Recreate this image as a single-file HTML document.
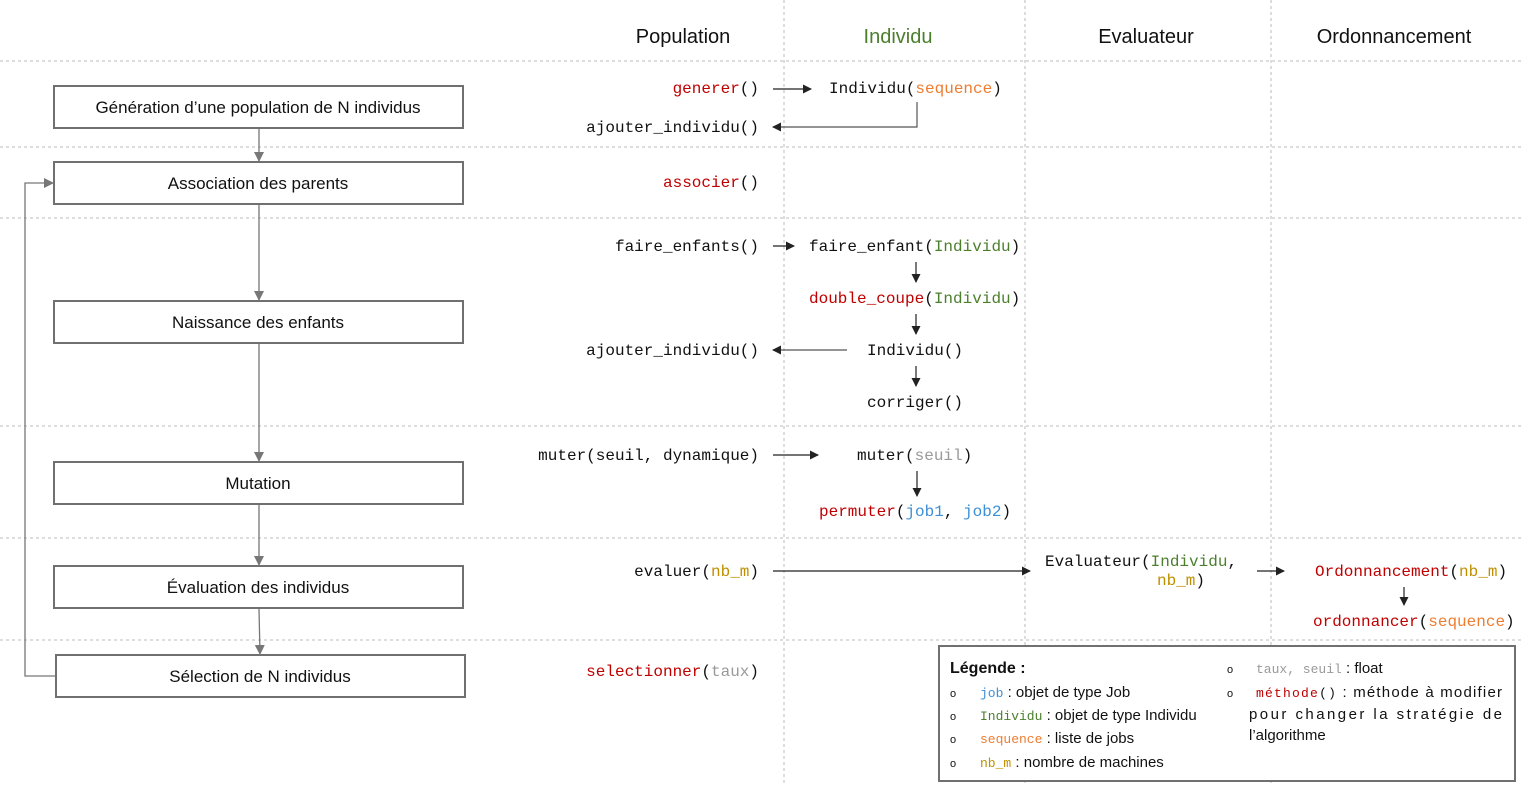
<!DOCTYPE html>
<html><head><meta charset="utf-8"><style>
html,body{margin:0;padding:0;background:#fff;}
svg{display:block;}
.m{font-family:"Liberation Mono",monospace;font-size:16px;fill:#111;}
.lm{font-family:"Liberation Mono",monospace;font-size:13px;}
.s{font-family:"Liberation Sans",sans-serif;fill:#111;}
.r{fill:#c00000}.o{fill:#ed7d31}.g{fill:#4b7f2c}.b{fill:#3d8fd6}.y{fill:#bf8f00}.gr{fill:#999}
</style></head><body>
<svg width="1522" height="786" viewBox="0 0 1522 786" xmlns="http://www.w3.org/2000/svg">
<defs>
<marker id="a" markerWidth="9" markerHeight="9" refX="8" refY="4.5" orient="auto" markerUnits="userSpaceOnUse"><path d="M0,0 L9,4.5 L0,9 z" fill="#222"/></marker>
<marker id="ag" markerWidth="10" markerHeight="10" refX="9" refY="5" orient="auto" markerUnits="userSpaceOnUse"><path d="M0,0 L10,5 L0,10 z" fill="#777"/></marker>
</defs>
<g stroke="#bbb" stroke-width="1" stroke-dasharray="3,3" fill="none">
<line x1="0" y1="61" x2="1522" y2="61"/><line x1="0" y1="147" x2="1522" y2="147"/>
<line x1="0" y1="218" x2="1522" y2="218"/><line x1="0" y1="426" x2="1522" y2="426"/>
<line x1="0" y1="538" x2="1522" y2="538"/><line x1="0" y1="640" x2="1522" y2="640"/>
<line x1="784" y1="0" x2="784" y2="786"/><line x1="1025" y1="0" x2="1025" y2="786"/><line x1="1271" y1="0" x2="1271" y2="786"/>
</g>
<g class="s" font-size="20" text-anchor="middle">
<text x="683" y="43">Population</text><text x="898" y="43" style="fill:#4b7f2c">Individu</text>
<text x="1146" y="43">Evaluateur</text><text x="1394" y="43">Ordonnancement</text>
</g>
<g fill="#fff" stroke="#707070" stroke-width="2">
<rect x="54" y="86" width="409" height="42"/><rect x="54" y="162" width="409" height="42"/>
<rect x="54" y="301" width="409" height="42"/><rect x="54" y="462" width="409" height="42"/>
<rect x="54" y="566" width="409" height="42"/><rect x="56" y="655" width="409" height="42"/>
</g>
<g class="s" font-size="17" text-anchor="middle">
<text x="258" y="113">Génération d’une population de N individus</text>
<text x="258" y="189">Association des parents</text>
<text x="258" y="328">Naissance des enfants</text>
<text x="258" y="489">Mutation</text>
<text x="258" y="593">Évaluation des individus</text>
<text x="260" y="682">Sélection de N individus</text>
</g>
<g stroke="#777" stroke-width="1.3" fill="none">
<line x1="259" y1="129" x2="259" y2="161" marker-end="url(#ag)"/>
<line x1="259" y1="205" x2="259" y2="300" marker-end="url(#ag)"/>
<line x1="259" y1="344" x2="259" y2="461" marker-end="url(#ag)"/>
<line x1="259" y1="505" x2="259" y2="565" marker-end="url(#ag)"/>
<line x1="259" y1="609" x2="260" y2="654" marker-end="url(#ag)"/>
<polyline points="55,676 25,676 25,183 53,183" marker-end="url(#ag)"/>
</g>
<g class="m" text-anchor="end">
<text x="759" y="93"><tspan class="r">generer</tspan>()</text>
<text x="759" y="132">ajouter_individu()</text>
<text x="759" y="187"><tspan class="r">associer</tspan>()</text>
<text x="759" y="251">faire_enfants()</text>
<text x="759" y="355">ajouter_individu()</text>
<text x="759" y="460">muter(seuil, dynamique)</text>
<text x="759" y="576">evaluer(<tspan class="y">nb_m</tspan>)</text>
<text x="759" y="676"><tspan class="r">selectionner</tspan>(<tspan class="gr">taux</tspan>)</text>
</g>
<g class="m">
<text x="829" y="93">Individu(<tspan class="o">sequence</tspan>)</text>
<text x="809" y="251">faire_enfant(<tspan class="g">Individu</tspan>)</text>
<text x="809" y="303"><tspan class="r">double_coupe</tspan>(<tspan class="g">Individu</tspan>)</text>
<text x="867" y="355">Individu()</text>
<text x="867" y="407">corriger()</text>
<text x="857" y="460">muter(<tspan class="gr">seuil</tspan>)</text>
<text x="819" y="516"><tspan class="r">permuter</tspan>(<tspan class="b">job1</tspan>, <tspan class="b">job2</tspan>)</text>
<text x="1045" y="566">Evaluateur(<tspan class="g">Individu</tspan>,</text>
<text x="1157" y="585"><tspan class="y">nb_m</tspan>)</text>
<text x="1315" y="576"><tspan class="r">Ordonnancement</tspan>(<tspan class="y">nb_m</tspan>)</text>
<text x="1313" y="626"><tspan class="r">ordonnancer</tspan>(<tspan class="o">sequence</tspan>)</text>
</g>
<g stroke="#222" stroke-width="1.2" fill="none">
<line x1="773" y1="89" x2="811" y2="89" marker-end="url(#a)"/>
<polyline points="917,102 917,127 773,127" stroke="#555" marker-end="url(#a)"/>
<line x1="773" y1="246" x2="794" y2="246" marker-end="url(#a)"/>
<line x1="916" y1="262" x2="916" y2="282" marker-end="url(#a)"/>
<line x1="916" y1="314" x2="916" y2="334" marker-end="url(#a)"/>
<line x1="847" y1="350" x2="773" y2="350" stroke="#555" marker-end="url(#a)"/>
<line x1="916" y1="366" x2="916" y2="386" marker-end="url(#a)"/>
<line x1="773" y1="455" x2="818" y2="455" marker-end="url(#a)"/>
<line x1="917" y1="471" x2="917" y2="496" marker-end="url(#a)"/>
<line x1="773" y1="571" x2="1030" y2="571" marker-end="url(#a)"/>
<line x1="1257" y1="571" x2="1284" y2="571" marker-end="url(#a)"/>
<line x1="1404" y1="587" x2="1404" y2="605" marker-end="url(#a)"/>
</g>
<rect x="939" y="646" width="576" height="135" fill="#fff" stroke="#707070" stroke-width="2"/>
<g class="s" font-size="15">
<text x="950" y="673" font-weight="bold" font-size="16">Légende :</text>
<text x="950" y="697" font-size="11">o</text><text x="980" y="697"><tspan class="lm b">job</tspan> : objet de type Job</text>
<text x="950" y="720" font-size="11">o</text><text x="980" y="720"><tspan class="lm g">Individu</tspan> : objet de type Individu</text>
<text x="950" y="743" font-size="11">o</text><text x="980" y="743"><tspan class="lm o">sequence</tspan> : liste de jobs</text>
<text x="950" y="767" font-size="11">o</text><text x="980" y="767"><tspan class="lm y">nb_m</tspan> : nombre de machines</text>
<text x="1227" y="673" font-size="11">o</text><text x="1256" y="673"><tspan class="lm gr">taux, seuil</tspan> : float</text>
<text x="1227" y="697" font-size="11">o</text><text x="1256" y="697" textLength="246" lengthAdjust="spacing"><tspan class="lm r">méthode</tspan><tspan class="lm">()</tspan> : méthode à modifier</text>
<text x="1249" y="719" textLength="253" lengthAdjust="spacing">pour changer la stratégie de</text>
<text x="1249" y="740">l’algorithme</text>
</g>
</svg>
</body></html>
